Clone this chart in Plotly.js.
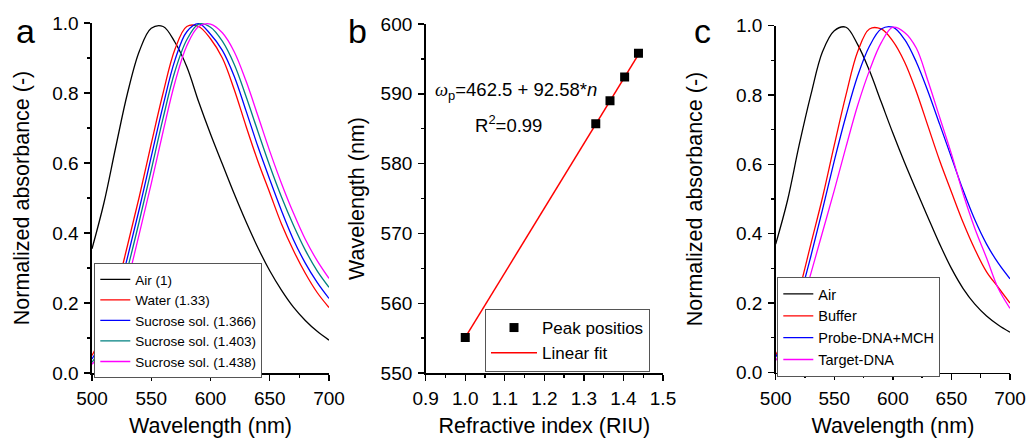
<!DOCTYPE html>
<html>
<head>
<meta charset="utf-8">
<script src="https://cdn.plot.ly/plotly-3.0.1.min.js"></script>
<style>html,body{margin:0;padding:0;background:#fff;}#chart{width:1027px;height:438px;}</style>
</head>
<body>
<div id="chart"></div>
<script>
// ---- Data ----
const wavelength = [500,510,520,530,540,550,560,570,580,590,600,610,620,630,640,650,660,670,680,690,700];

// Panel a: normalized absorbance
const airA        = [0.355,0.485,0.645,0.800,0.920,0.985,0.990,0.945,0.875,0.775,0.683,0.597,0.512,0.432,0.358,0.292,0.236,0.188,0.150,0.119,0.094];
const waterA      = [0.050,0.120,0.230,0.365,0.505,0.655,0.800,0.925,0.990,0.990,0.955,0.900,0.810,0.705,0.605,0.515,0.425,0.350,0.285,0.230,0.187];
const sucrose1366 = [0.040,0.100,0.202,0.331,0.470,0.618,0.764,0.894,0.975,0.998,0.968,0.922,0.848,0.749,0.647,0.553,0.463,0.381,0.314,0.259,0.213];
const sucrose1403 = [0.030,0.085,0.175,0.298,0.435,0.580,0.728,0.862,0.952,0.997,0.988,0.948,0.882,0.790,0.690,0.592,0.502,0.422,0.351,0.292,0.245];
const sucrose1438 = [0.025,0.067,0.146,0.262,0.399,0.541,0.690,0.830,0.935,0.990,0.997,0.972,0.918,0.834,0.735,0.634,0.541,0.457,0.382,0.321,0.270];
const seriesA = ["Air (1)","Water (1.33)","Sucrose sol. (1.366)","Sucrose sol. (1.403)","Sucrose sol. (1.438)"];

// Panel b: peak position vs refractive index
const refractiveIndex = [1.000,1.330,1.366,1.403,1.438];
const peakPosition    = [555.1,585.7,589.0,592.4,595.8];
const fitIndex        = [1.000,1.442];
const fitWavelength   = [555.1,596.0];
const seriesB = ["Peak positios","Linear fit"];

// Panel c: normalized absorbance
const airC    = [0.370,0.495,0.655,0.800,0.925,0.985,0.995,0.945,0.870,0.780,0.690,0.605,0.525,0.447,0.370,0.300,0.242,0.197,0.163,0.137,0.116];
const bufferC = [0.050,0.120,0.235,0.370,0.505,0.655,0.800,0.925,0.990,0.990,0.955,0.895,0.810,0.710,0.610,0.520,0.432,0.355,0.290,0.245,0.200];
const probeC  = [0.045,0.105,0.210,0.335,0.470,0.610,0.740,0.855,0.940,0.990,0.995,0.960,0.895,0.810,0.715,0.620,0.525,0.440,0.370,0.315,0.270];
const targetC = [0.035,0.085,0.170,0.285,0.405,0.525,0.650,0.770,0.870,0.950,0.995,0.980,0.935,0.840,0.735,0.630,0.515,0.415,0.330,0.242,0.185];
const seriesC = ["Air","Buffer","Probe-DNA+MCH","Target-DNA"];

const colorsA = ["#000000","#ff0000","#0000ff","#008080","#ff00ff"];
const colorsC = ["#000000","#ff0000","#0000ff","#ff00ff"];

// ---- Build traces ----
const FONT = "Liberation Sans, Arial, sans-serif";
const lw = 1.3;
const traces = [];
[airA, waterA, sucrose1366, sucrose1403, sucrose1438].forEach((ys, i) => {
  traces.push({x: wavelength, y: ys, type: "scatter", mode: "lines", name: seriesA[i],
    line: {color: colorsA[i], width: lw, shape: "spline", smoothing: 1}, xaxis: "x", yaxis: "y", legend: "legend"});
});
traces.push({x: fitIndex, y: fitWavelength, type: "scatter", mode: "lines", name: seriesB[1], legendrank: 2,
  line: {color: "#ff0000", width: 1.5}, xaxis: "x2", yaxis: "y2", legend: "legend2"});
traces.push({x: refractiveIndex, y: peakPosition, type: "scatter", mode: "markers", name: seriesB[0], legendrank: 1,
  marker: {symbol: "square", color: "#000", size: 9}, xaxis: "x2", yaxis: "y2", legend: "legend2"});
[airC, bufferC, probeC, targetC].forEach((ys, i) => {
  traces.push({x: wavelength, y: ys, type: "scatter", mode: "lines", name: seriesC[i],
    line: {color: colorsC[i], width: lw, shape: "spline", smoothing: 1}, xaxis: "x3", yaxis: "y3", legend: "legend3"});
});

const W = 1027, H = 438;
const px = v => v / W;
const py = v => (H - v) / H;

function ax(domain, range, dtick, minorDtick, fmt, title, standoff) {
  return {domain: domain, range: range, dtick: dtick, tick0: range[0], tickformat: fmt,
    showline: true, linecolor: "#000", linewidth: 1.6, mirror: false,
    ticks: "outside", ticklen: 6, tickwidth: 1.4, tickcolor: "#000", ticklabelstandoff: 2,
    minor: {ticks: "outside", ticklen: 3.5, tickwidth: 1.4, tickcolor: "#000", dtick: minorDtick, tick0: range[0], showgrid: false},
    showgrid: false, zeroline: false, fixedrange: true,
    tickfont: {family: FONT, size: 19, color: "#000"},
    title: {text: title, font: {family: FONT, size: 21.5, color: "#000"}, standoff: standoff}};
}

const NB = "\u00a0";
const layout = {
  width: W, height: H, margin: {l: 0, r: 0, t: 0, b: 0},
  paper_bgcolor: "#fff", plot_bgcolor: "rgba(0,0,0,0)",
  showlegend: true,
  font: {family: FONT, color: "#000"},
  xaxis: Object.assign(ax([px(92), px(329)], [500, 700], 50, 25, "d", "Wavelength (nm)", 10), {anchor: "y"}),
  yaxis: Object.assign(ax([py(373), py(23)], [0, 1], 0.2, 0.1, ".1f", "Normalized absorbance (-)" + NB.repeat(5), 16), {anchor: "x"}),
  xaxis2: Object.assign(ax([px(425.7), px(663)], [0.9, 1.5], 0.1, 0.05, ".1f", "Refractive index (RIU)", 10), {anchor: "y2"}),
  yaxis2: Object.assign(ax([py(373), py(24)], [550, 600], 10, 5, "d", "Wavelength (nm)", 10), {anchor: "x2"}),
  xaxis3: Object.assign(ax([px(775.7), px(1010)], [500, 700], 50, 25, "d", "Wavelength (nm)", 10), {anchor: "y3"}),
  yaxis3: Object.assign(ax([py(372.5), py(25.5)], [0, 1], 0.2, 0.1, ".1f", "Normalized absorbance (-)", 27), {anchor: "x3"}),
  legend: {x: px(94.3), y: py(263), xanchor: "left", yanchor: "top", bgcolor: "#fff",
    bordercolor: "#555", borderwidth: 1, font: {family: FONT, size: 13.5, color: "#000"}, tracegroupgap: 0, itemwidth: 30},
  legend2: {x: px(485), y: py(309), xanchor: "left", yanchor: "top", bgcolor: "#fff",
    bordercolor: "#555", borderwidth: 1, font: {family: FONT, size: 17, color: "#000"}, itemwidth: 46},
  legend3: {x: px(777.3), y: py(277), xanchor: "left", yanchor: "top", bgcolor: "#fff",
    bordercolor: "#555", borderwidth: 1, font: {family: FONT, size: 14.5, color: "#000"}, itemwidth: 30},
  annotations: [
    {text: "a", xref: "paper", yref: "paper", x: px(25.5), y: py(31), xanchor: "center", yanchor: "middle", showarrow: false, font: {family: FONT, size: 34, color: "#000"}},
    {text: "b", xref: "paper", yref: "paper", x: px(357), y: py(31), xanchor: "center", yanchor: "middle", showarrow: false, font: {family: FONT, size: 34, color: "#000"}},
    {text: "c", xref: "paper", yref: "paper", x: px(702.5), y: py(31), xanchor: "center", yanchor: "middle", showarrow: false, font: {family: FONT, size: 34, color: "#000"}},
    {text: "<span style=\"font-family:'Liberation Serif',serif\"><i>ω</i></span><sub>p</sub>=462.5 + 92.58*<i>n</i>", xref: "x2", yref: "y2", x: 1.128, y: 590.4,
      xanchor: "center", yanchor: "middle", showarrow: false, font: {family: FONT, size: 18.5, color: "#000"}},
    {text: "R<sup>2</sup>=0.99", xref: "x2", yref: "y2", x: 1.11, y: 585.7,
      xanchor: "center", yanchor: "middle", showarrow: false, font: {family: FONT, size: 18.5, color: "#000"}}
  ]
};

Plotly.newPlot("chart", traces, layout, {staticPlot: true, displayModeBar: false});
</script>
</body>
</html>
